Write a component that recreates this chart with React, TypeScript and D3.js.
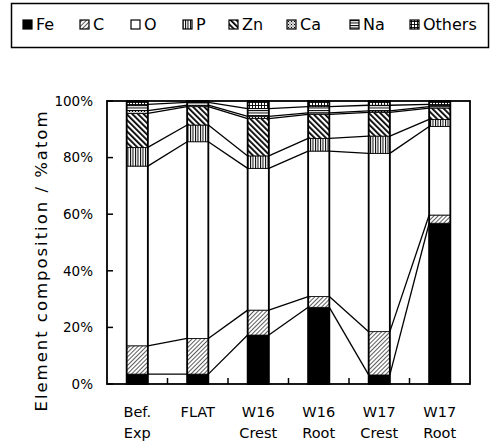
import React from "react";
import * as d3 from "d3";

const categories = ["Bef. Exp", "FLAT", "W16 Crest", "W16 Root", "W17 Crest", "W17 Root"];
const seriesNames = ["Fe", "C", "O", "P", "Zn", "Ca", "Na", "Others"];
const fe = [3.5, 3.5, 17.3, 27.1, 3.2, 56.8];
const c = [10.0, 12.6, 8.8, 3.8, 15.3, 2.9];
const o = [63.5, 69.5, 50.1, 51.4, 63.0, 31.3];
const p = [6.6, 5.9, 4.4, 4.5, 6.1, 2.5];
const zn = [12.0, 6.5, 13.2, 8.5, 8.4, 4.0];
const ca = [1.0, 0.5, 0.8, 0.5, 0.5, 0.5];
const na = [2.2, 1.0, 2.7, 2.2, 2.0, 0.8];
const others = [1.2, 0.5, 2.7, 2.0, 1.5, 1.2];
const yTicks = [0, 20, 40, 60, 80, 100];

const seriesValues = [fe, c, o, p, zn, ca, na, others];
const fills = [
  "#000",
  "url(#patC)",
  "#fff",
  "url(#patP)",
  "url(#patZn)",
  "url(#patCa)",
  "url(#patNa)",
  "url(#patOth)",
];

const W = 492;
const H = 443;
const margin = { left: 107, right: 22, top: 101, bottom: 59 };
const FONT = "'DejaVu Sans', sans-serif";

export default function App() {
  const x = d3
    .scaleBand<string>()
    .domain(categories)
    .range([margin.left, W - margin.right])
    .paddingInner(0.65)
    .paddingOuter(0.325);
  const y = d3.scaleLinear().domain([0, 100]).range([H - margin.bottom, margin.top]);

  const table = categories.map((cat, i) => {
    const row: any = { cat };
    seriesNames.forEach((s, k) => (row[s] = seriesValues[k][i]));
    return row;
  });
  const stacked = d3.stack<any>().keys(seriesNames)(table);

  const bw = x.bandwidth();
  const step = x.step();
  const x0 = margin.left;
  const x1 = W - margin.right;
  const yb = y(0);
  const yt = y(100);

  const legendX = [23, 80, 131, 183, 229, 287, 350, 410];

  return (
    <svg width={W} height={H} style={{ display: "block", position: "absolute", left: 0, top: 0 }}>
      <defs>
        <pattern id="patC" patternUnits="userSpaceOnUse" width={3} height={3} patternTransform="rotate(45)">
          <rect width={3} height={3} fill="#fff" />
          <rect x={0} y={0} width={0.8} height={3} fill="#333" />
        </pattern>
        <pattern id="patZn" patternUnits="userSpaceOnUse" width={4} height={4} patternTransform="rotate(-45)">
          <rect width={4} height={4} fill="#fff" />
          <rect x={0} y={0} width={1.8} height={4} fill="#000" />
        </pattern>
        <pattern id="patP" patternUnits="userSpaceOnUse" width={2.5} height={2.5}>
          <rect width={2.5} height={2.5} fill="#fff" />
          <rect x={0} y={0} width={1} height={2.5} fill="#000" />
        </pattern>
        <pattern id="patNa" patternUnits="userSpaceOnUse" width={2.5} height={2.5}>
          <rect width={2.5} height={2.5} fill="#fff" />
          <rect x={0} y={0} width={2.5} height={1} fill="#000" />
        </pattern>
        <pattern id="patCa" patternUnits="userSpaceOnUse" width={3} height={3}>
          <rect width={3} height={3} fill="#ddd" />
          <rect x={0} y={0} width={1} height={1} fill="#000" />
          <rect x={1.5} y={1.5} width={1} height={1} fill="#555" />
        </pattern>
        <pattern id="patOth" patternUnits="userSpaceOnUse" width={3} height={3}>
          <rect width={3} height={3} fill="#fff" />
          <rect x={0} y={0} width={3} height={0.9} fill="#000" />
          <rect x={0} y={0} width={0.9} height={3} fill="#000" />
        </pattern>
      </defs>

      {/* Legend */}
      <rect x={11.5} y={3.5} width={477} height={44} fill="#fff" stroke="#000" strokeWidth={1.5} />
      {seriesNames.map((s, k) => (
        <g key={s}>
          <rect
            x={legendX[k]}
            y={20}
            width={9}
            height={9}
            fill={fills[k]}
            stroke="#000"
            strokeWidth={1.2}
          />
          <text x={legendX[k] + 13} y={30} fontFamily={FONT} fontSize={16} fill="#000">
            {s}
          </text>
        </g>
      ))}

      {/* Connector lines */}
      {stacked.slice(0, seriesNames.length - 1).map((layer, k) => (
        <g key={"c" + k}>
          {layer.slice(0, -1).map((d, i) => {
            const next = layer[i + 1];
            const xa = (x(categories[i]) as number) + bw;
            const xb = x(categories[i + 1]) as number;
            return (
              <line
                key={i}
                x1={xa}
                y1={y(d[1])}
                x2={xb}
                y2={y(next[1])}
                stroke="#000"
                strokeWidth={1.3}
              />
            );
          })}
        </g>
      ))}

      {/* Bars */}
      {stacked.map((layer, k) => (
        <g key={"b" + k}>
          {layer.map((d, i) => (
            <rect
              key={i}
              x={x(categories[i])}
              y={y(d[1])}
              width={bw}
              height={Math.max(0, y(d[0]) - y(d[1]))}
              fill={fills[k]}
              stroke="#000"
              strokeWidth={0.8}
            />
          ))}
        </g>
      ))}
      {categories.map((cat) => (
        <rect
          key={"o" + cat}
          x={x(cat)}
          y={yt}
          width={bw}
          height={yb - yt}
          fill="none"
          stroke="#000"
          strokeWidth={1.8}
        />
      ))}

      {/* Frame */}
      <rect x={x0} y={yt} width={x1 - x0} height={yb - yt} fill="none" stroke="#000" strokeWidth={1.8} />

      {/* Y ticks */}
      {yTicks.map((t) => (
        <g key={"y" + t}>
          <line x1={x0} x2={x0 + 6} y1={y(t)} y2={y(t)} stroke="#000" strokeWidth={1.5} />
          <text
            x={x0 - 14}
            y={y(t)}
            dy="0.35em"
            textAnchor="end"
            fontFamily={FONT}
            fontSize={13.5}
            fill="#000"
          >
            {t}%
          </text>
        </g>
      ))}

      {/* X ticks at band boundaries */}
      {categories.slice(1).map((cat, i) => {
        const bx = (x(cat) as number) - (step - bw) / 2;
        return <line key={"xt" + i} x1={bx} x2={bx} y1={yb} y2={yb - 6} stroke="#000" strokeWidth={1.5} />;
      })}

      {/* X labels */}
      {categories.map((cat) => {
        const parts = cat.split(" ");
        const cx = (x(cat) as number) + bw / 2;
        return (
          <text key={"xl" + cat} textAnchor="middle" fontFamily={FONT} fontSize={14.5} fill="#000">
            {parts.map((pt, j) => (
              <tspan key={j} x={cx} y={417 + j * 21}>
                {pt}
              </tspan>
            ))}
          </text>
        );
      })}

      {/* Y title */}
      <text
        transform={`translate(47,261.5) rotate(-90)`}
        textAnchor="middle"
        fontFamily={FONT}
        fontSize={16.5}
        textLength={300}
        lengthAdjust="spacing"
        fill="#000"
      >
        Element composition / %atom
      </text>
    </svg>
  );
}
